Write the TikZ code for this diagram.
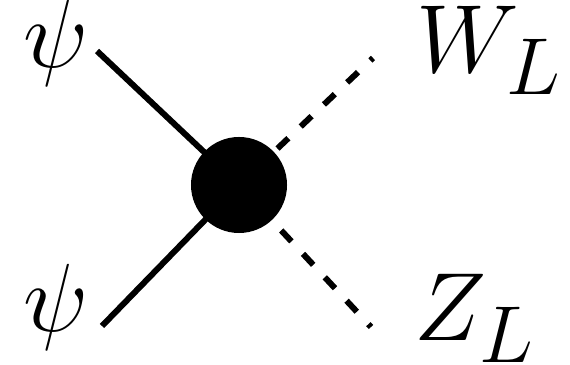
\documentclass[tikz,border=0pt]{standalone}
\usepackage{amsmath,amssymb}

\begin{document}
\begin{tikzpicture}[x=0.025cm, y=0.025cm,
  fer/.style={line width=4.27pt},
  bos/.style={line width=4.27pt, dash pattern=on 10.67pt off 12.09pt},
  blob/.style={fill=black, circle, minimum size=2.4cm, inner sep=0pt},
  lbl/.style={inner sep=0pt, font=\Huge, scale=2.77}]
\useasboundingbox (0,0) rectangle (570,365);
\coordinate (v) at (239,180);
\coordinate (f1) at (97,314);
\coordinate (f2) at (102,39);
\coordinate (b1) at (373,307);
\coordinate (b2) at (371,38);
\draw[fer] (f1) -- (v);
\draw[fer] (f2) -- (v);
\draw[bos, dash phase=7.82pt] (v) -- (b1);
\draw[bos, dash phase=1.42pt] (v) -- (b2);
\node[blob] (V) at (v) {};
\node[lbl] (psiA) at (56,322) {$\psi$};
\node[lbl] (psiB) at (56,58) {$\psi$};
\node[lbl, anchor=base west] (W) at (416,292) {$W_L$};
\node[lbl, anchor=base west] (Z) at (414,24) {$Z_L$};
\end{tikzpicture}
\end{document}
